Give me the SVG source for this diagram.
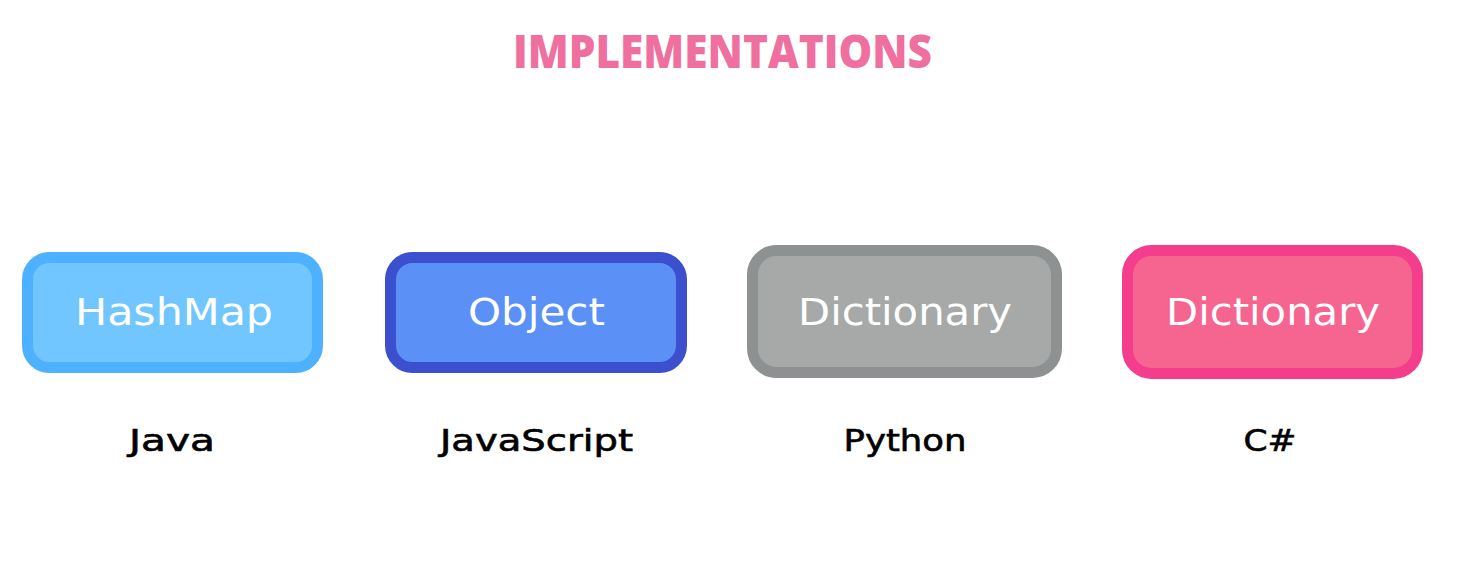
<svg xmlns="http://www.w3.org/2000/svg" width="1473" height="569" viewBox="0 0 1473 569">
<style>
.box{stroke-width:11}
.in{font-family:"DejaVu Sans","Open Sans",sans-serif;font-size:37px;fill:#ffffff;text-anchor:middle}
.lbl{font-family:"DejaVu Sans","Open Sans",sans-serif;font-size:30px;fill:#000000;stroke:#000000;stroke-width:0.6;text-anchor:middle}
.title{font-family:"Open Sans","Liberation Sans",sans-serif;font-size:46px;font-weight:800;fill:#EF6F9F;text-anchor:middle}
</style>
<rect width="1473" height="569" fill="#ffffff"/>
<text class="title" x="722.5" y="68" textLength="419" lengthAdjust="spacingAndGlyphs">IMPLEMENTATIONS</text>
<g id="node-hashmap">
<rect class="box" x="27.5" y="257.5" width="290" height="110" rx="22" fill="#72C6FF" stroke="#4DB1FF"/>
<text class="in" x="174" y="325" textLength="198" lengthAdjust="spacingAndGlyphs">HashMap</text>
<text class="lbl" x="172" y="451" textLength="86" lengthAdjust="spacingAndGlyphs">Java</text>
</g>
<g id="node-object">
<rect class="box" x="390.5" y="257.5" width="291" height="110" rx="22" fill="#5B91F7" stroke="#3B4FCF"/>
<text class="in" x="536.5" y="325" textLength="137" lengthAdjust="spacingAndGlyphs">Object</text>
<text class="lbl" x="536.5" y="451" textLength="193" lengthAdjust="spacingAndGlyphs">JavaScript</text>
</g>
<g id="node-python">
<rect class="box" x="752.5" y="250.5" width="304" height="122" rx="24" fill="#A6A9A8" stroke="#8E9192"/>
<text class="in" x="905" y="325" textLength="214" lengthAdjust="spacingAndGlyphs">Dictionary</text>
<text class="lbl" x="905" y="451" textLength="123" lengthAdjust="spacingAndGlyphs">Python</text>
</g>
<g id="node-csharp">
<rect class="box" x="1127.5" y="250.5" width="290" height="123" rx="24" fill="#F5658F" stroke="#F43D8D"/>
<text class="in" x="1273" y="325" textLength="214" lengthAdjust="spacingAndGlyphs">Dictionary</text>
<text class="lbl" x="1270" y="451" textLength="53" lengthAdjust="spacingAndGlyphs">C#</text>
</g>
<g id="connectors"></g>
</svg>
